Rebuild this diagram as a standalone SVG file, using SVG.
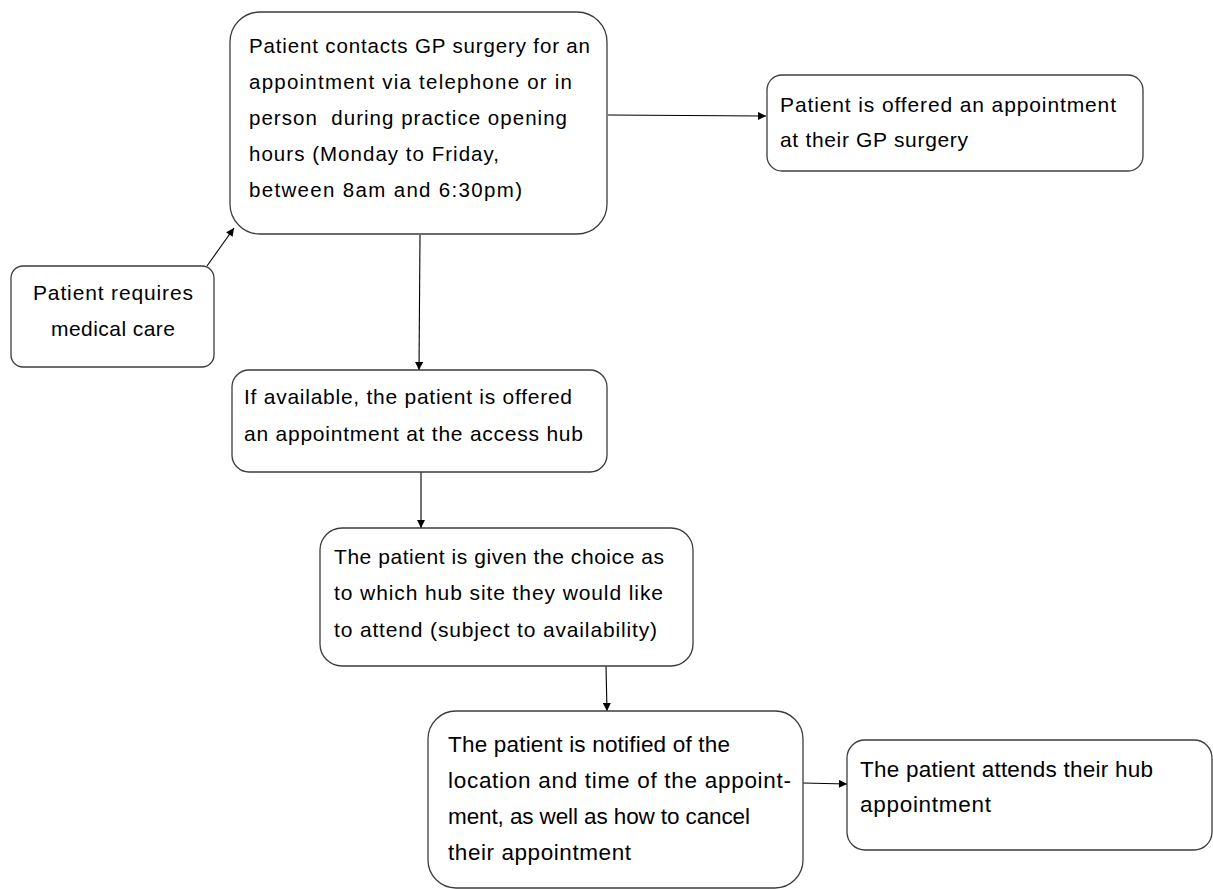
<svg xmlns="http://www.w3.org/2000/svg" width="1213" height="889" viewBox="0 0 1213 889">
<defs>
<style>
.box{fill:#ffffff;stroke:#3c3c3c;stroke-width:1.3}
.t{font-family:"Liberation Sans",Arial,sans-serif;fill:#000000}
.s1{font-size:20.5px}
.s2{font-size:21px}
.s3{font-size:22.5px}
.c{stroke:#000000;stroke-width:1.1;fill:none;marker-end:url(#ah)}
</style>
<marker id="ah" viewBox="0 0 10 10" refX="10" refY="5" markerUnits="userSpaceOnUse" markerWidth="10" markerHeight="8" orient="auto">
<path d="M0,0 L10,5 L0,10 z" fill="#000000"/>
</marker>
</defs>
<rect width="1213" height="889" fill="#ffffff"/>
<g id="connectors">
<line class="c" x1="207" y1="266" x2="234" y2="228"/>
<line class="c" x1="608" y1="115" x2="766" y2="116"/>
<line class="c" x1="420" y1="235" x2="419" y2="370"/>
<line class="c" x1="421" y1="472" x2="421" y2="528"/>
<line class="c" x1="606" y1="666" x2="607" y2="711"/>
<line class="c" x1="803" y1="783" x2="847" y2="784"/>
</g>
<g id="node-contacts">
<rect class="box" x="230" y="12" width="377" height="222" rx="30"/>
<text class="t s1" x="249" y="53" textLength="341">Patient contacts GP surgery for an</text>
<text class="t s1" x="249" y="89" textLength="323">appointment via telephone or in</text>
<text class="t s1" x="249" y="125" textLength="318" xml:space="preserve">person  during practice opening</text>
<text class="t s1" x="249" y="161" textLength="250">hours (Monday to Friday,</text>
<text class="t s1" x="249" y="197" textLength="273">between 8am and 6:30pm)</text>
</g>
<g id="node-requires">
<rect class="box" x="11" y="266" width="203" height="101" rx="12"/>
<text class="t s2" x="33" y="300" textLength="160">Patient requires</text>
<text class="t s2" x="51" y="336" textLength="124">medical care</text>
</g>
<g id="node-offered-gp">
<rect class="box" x="767" y="75" width="376" height="96" rx="15"/>
<text class="t s2" x="780" y="112" textLength="336">Patient is offered an appointment</text>
<text class="t s2" x="780" y="147" textLength="188">at their GP surgery</text>
</g>
<g id="node-hub-offer">
<rect class="box" x="232" y="370" width="375" height="102" rx="17"/>
<text class="t s2" x="244" y="404" textLength="328">If available, the patient is offered</text>
<text class="t s2" x="244" y="441" textLength="339">an appointment at the access hub</text>
</g>
<g id="node-choice">
<rect class="box" x="320" y="528" width="373" height="138" rx="22"/>
<text class="t s2" x="334" y="564" textLength="330">The patient is given the choice as</text>
<text class="t s2" x="334" y="600" textLength="329">to which hub site they would like</text>
<text class="t s2" x="334" y="637" textLength="323">to attend (subject to availability)</text>
</g>
<g id="node-notified">
<rect class="box" x="428" y="711" width="375" height="177" rx="28"/>
<text class="t s3" x="448" y="752" textLength="282">The patient is notified of the</text>
<text class="t s3" x="448" y="788" textLength="343">location and time of the appoint-</text>
<text class="t s3" x="448" y="824" textLength="302">ment, as well as how to cancel</text>
<text class="t s3" x="448" y="860" textLength="183">their appointment</text>
</g>
<g id="node-attends">
<rect class="box" x="847" y="740" width="365" height="110" rx="18"/>
<text class="t s3" x="860" y="777" textLength="293">The patient attends their hub</text>
<text class="t s3" x="860" y="812" textLength="131">appointment</text>
</g>
</svg>
